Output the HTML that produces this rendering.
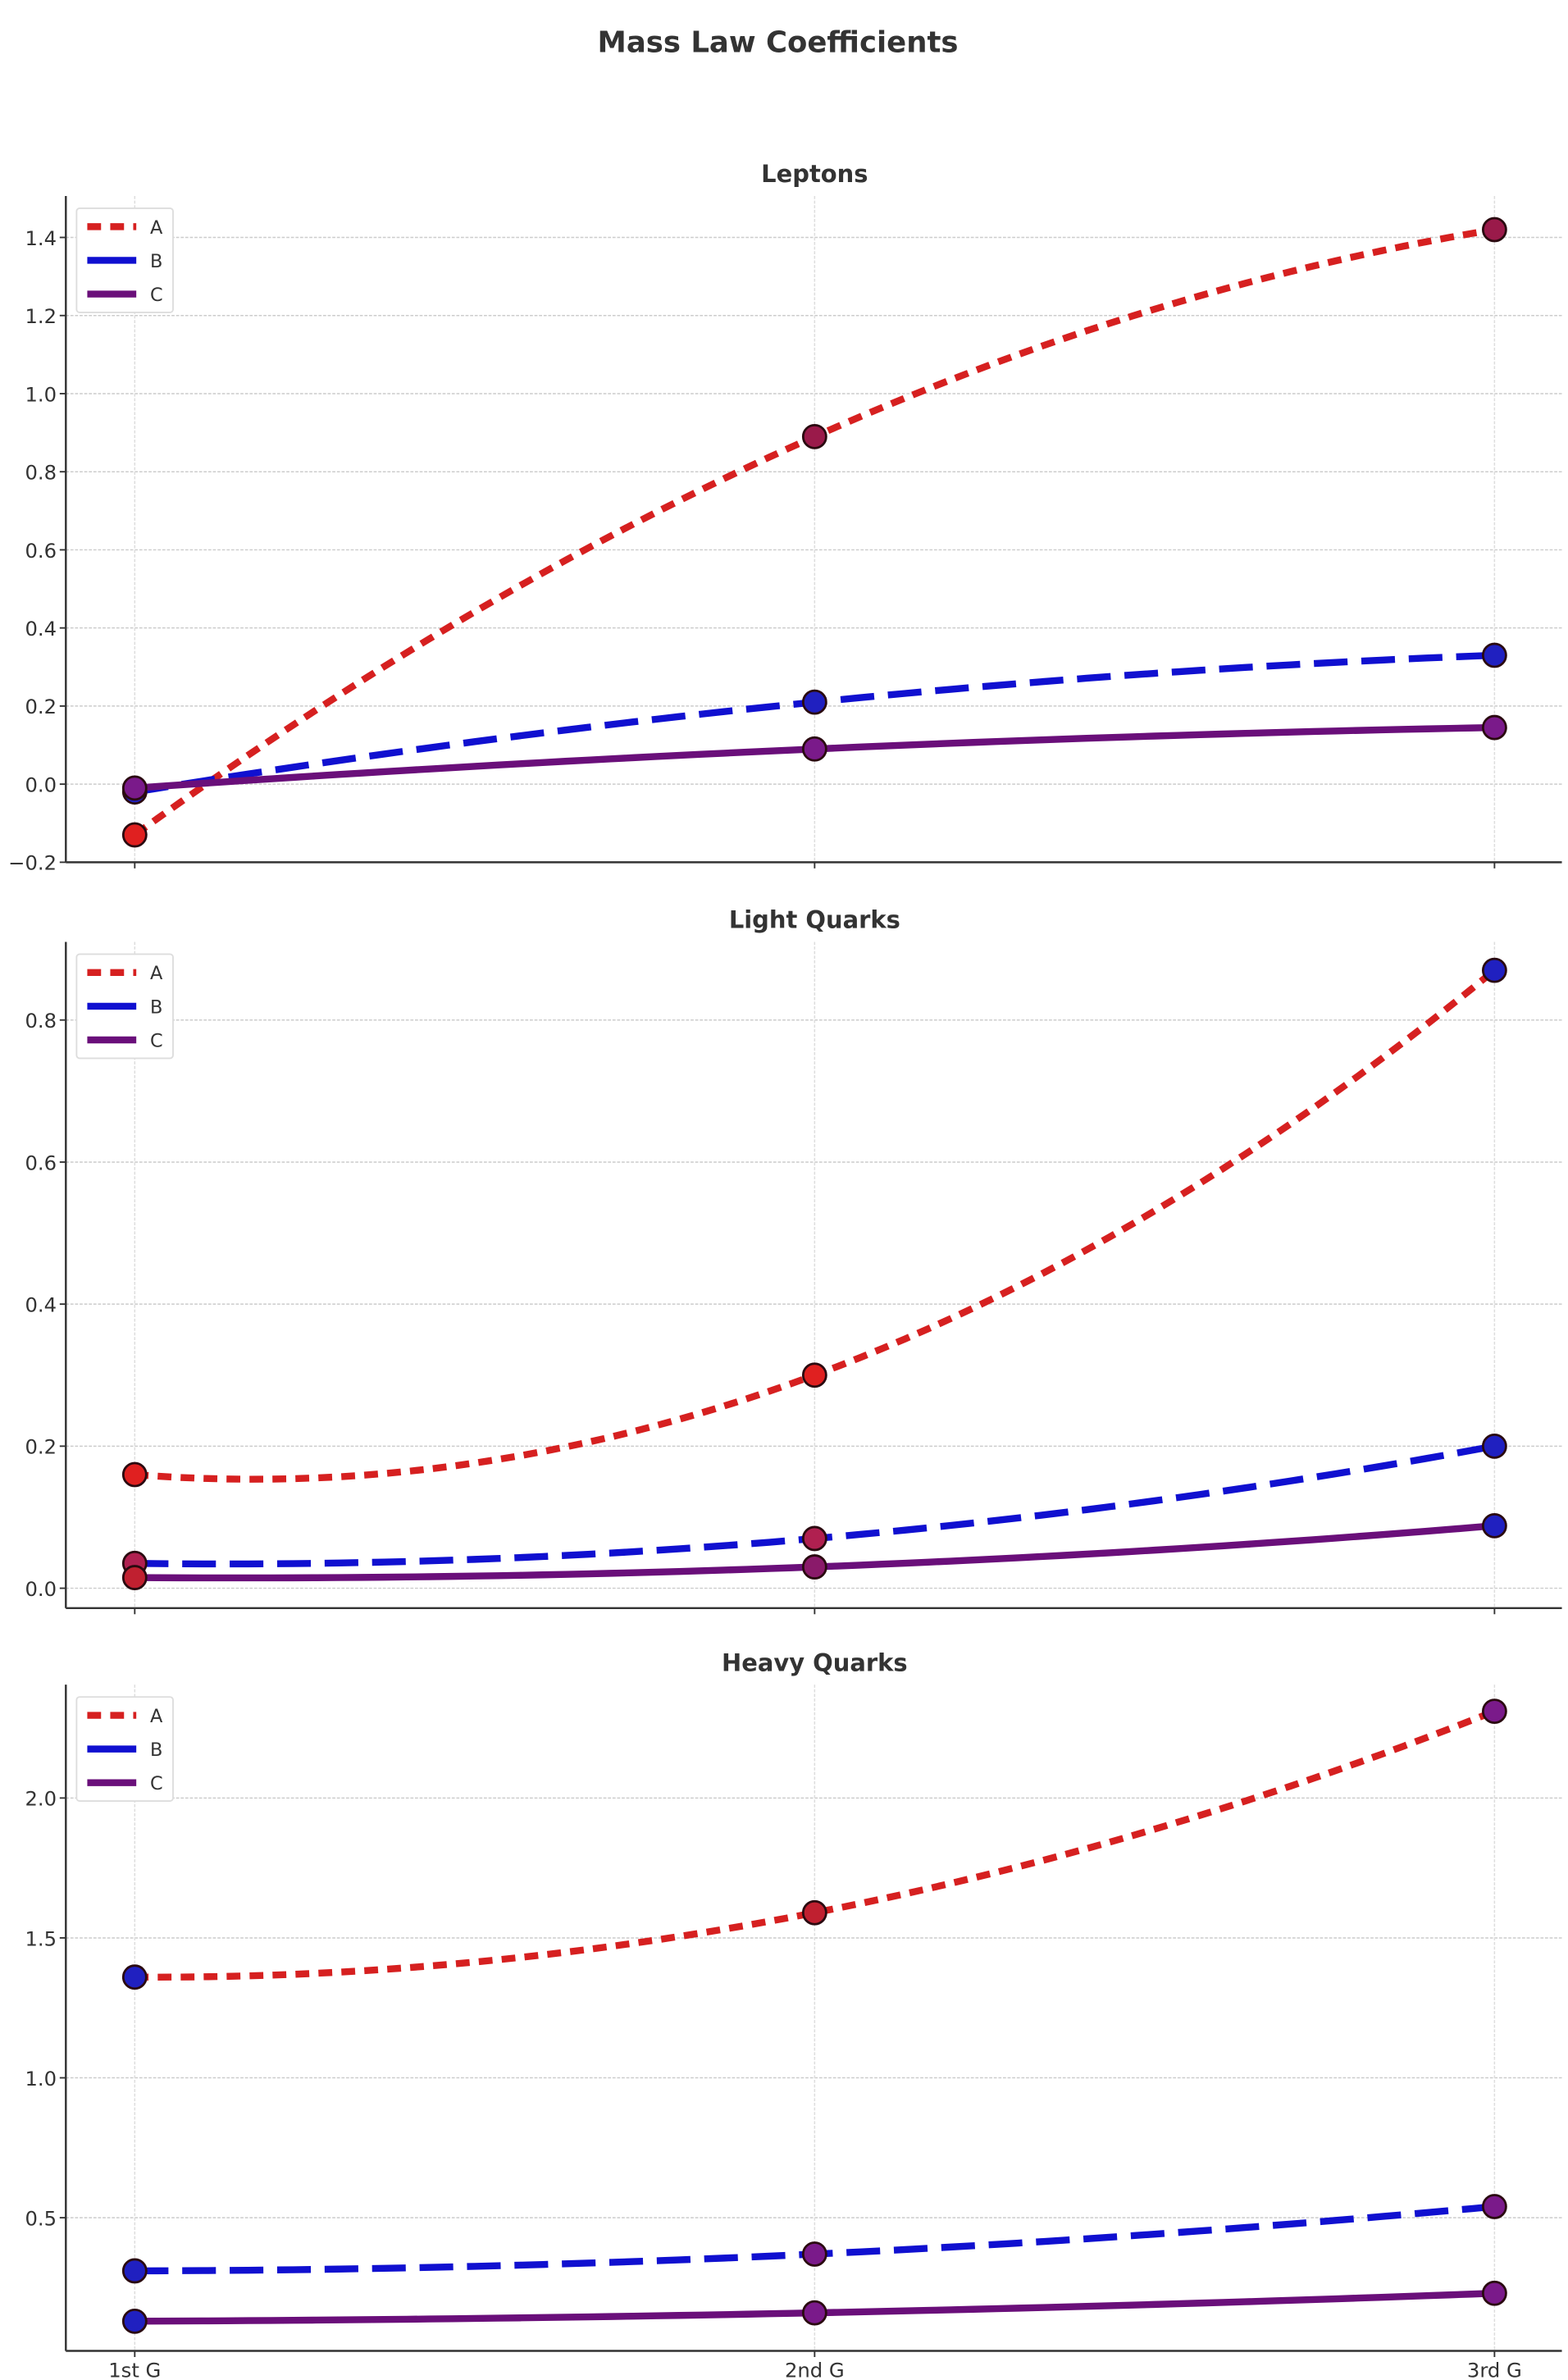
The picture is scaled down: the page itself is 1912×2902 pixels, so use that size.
<!DOCTYPE html>
<html><head><meta charset="utf-8"><style>
html,body{margin:0;padding:0;background:#fff;}
svg{display:block;font-family:"DejaVu Sans","Liberation Sans",sans-serif;}
</style></head><body>
<svg id="chart" width="1912" height="2902" viewBox="0 0 1024 1554" preserveAspectRatio="none" xmlns="http://www.w3.org/2000/svg">
<text x="508" y="34" text-anchor="middle" font-size="19" font-weight="bold" fill="#333">Mass Law Coefficients</text>
</svg>
<script>
const categories = ["1st G", "2nd G", "3rd G"];
const seriesNames = ["A", "B", "C"];
const panelTitles = ["Leptons", "Light Quarks", "Heavy Quarks"];
const leptonsA = [-0.13, 0.89, 1.42];
const leptonsB = [-0.02, 0.21, 0.33];
const leptonsC = [-0.01, 0.09, 0.145];
const lightA = [0.16, 0.30, 0.87];
const lightB = [0.035, 0.07, 0.20];
const lightC = [0.015, 0.03, 0.088];
const heavyA = [1.36, 1.59, 2.31];
const heavyB = [0.31, 0.37, 0.54];
const heavyC = [0.13, 0.16, 0.23];
const leptonTicks = ["-0.2", "0.0", "0.2", "0.4", "0.6", "0.8", "1.0", "1.2", "1.4"];
const lightTicks = ["0.0", "0.2", "0.4", "0.6", "0.8"];
const heavyTicks = ["0.5", "1.0", "1.5", "2.0"];

const NS = "http://www.w3.org/2000/svg";
const svg = document.getElementById("chart");
function mk(tag, attrs, parent) {
  const e = document.createElementNS(NS, tag);
  for (const k in attrs) e.setAttribute(k, attrs[k]);
  (parent || svg).appendChild(e);
  return e;
}
const colors = ["#d62020", "#1010d0", "#6a0f7a"];
const dashes = ["9 6", "22 9", ""];
const markerCols = [
  [["#e02020","#9a1a4a","#9a1a4a"],["#2020c0","#2020c0","#2020c0"],["#7a1a8a","#7a1a8a","#7a1a8a"]],
  [["#e02020","#e02020","#2020c0"],["#b02050","#b02050","#2020c0"],["#c02030","#8a1a6a","#2020c0"]],
  [["#2020c0","#c02030","#7a1a8a"],["#2020c0","#7a1a8a","#7a1a8a"],["#2020c0","#7a1a8a","#7a1a8a"]]
];
const panels = [
  {title: panelTitles[0], series: [leptonsA, leptonsB, leptonsC], ticks: leptonTicks, top: 128, bottom: 563, ymin: -0.2, ymax: 1.506, name: "leptons"},
  {title: panelTitles[1], series: [lightA, lightB, lightC], ticks: lightTicks, top: 615, bottom: 1050, ymin: -0.028, ymax: 0.91, name: "light-quarks"},
  {title: panelTitles[2], series: [heavyA, heavyB, heavyC], ticks: heavyTicks, top: 1100, bottom: 1535, ymin: 0.024, ymax: 2.405, name: "heavy-quarks"}
];
const L = 43, R = 1020, X0 = 88, X1 = 976;
function xs(i) { return X0 + (X1 - X0) * i / (categories.length - 1); }

panels.forEach((p, pi) => {
  const g = mk("g", {});
  
  
  const ys = v => p.bottom - (v - p.ymin) / (p.ymax - p.ymin) * (p.bottom - p.top);
  const t = mk("text", {x: 532, y: p.top - 9, "text-anchor": "middle", "font-size": 15.5, "font-weight": "bold", fill: "#333"}, g);
  t.textContent = p.title;
  
  
  // grid y
  p.ticks.forEach(tk => {
    const y = ys(parseFloat(tk));
    mk("line", {x1: L, x2: R, y1: y, y2: y, stroke: "#ccc", "stroke-width": 0.8, "stroke-dasharray": "2 1"}, g);
    mk("line", {x1: L - 4, x2: L, y1: y, y2: y, stroke: "#333", "stroke-width": 1}, g);
    const tl = mk("text", {x: L - 6, y: y + 5, "text-anchor": "end", "font-size": 13, fill: "#333"}, g);
    tl.textContent = tk.replace("-", "\u2212");
    
    
  });
  categories.forEach((c, i) => {
    const x = xs(i);
    mk("line", {x1: x, x2: x, y1: p.top, y2: p.bottom, stroke: "#ddd", "stroke-width": 0.8, "stroke-dasharray": "2 1"}, g);
    mk("line", {x1: x, x2: x, y1: p.bottom, y2: p.bottom + 4, stroke: "#333", "stroke-width": 1}, g);
    if (pi === 2) {
      const xl = mk("text", {x: x, y: p.bottom + 17, "text-anchor": "middle", "font-size": 13, fill: "#333"}, g);
      xl.textContent = c;
      
      
    }
  });
  mk("line", {x1: L, x2: L, y1: p.top, y2: p.bottom, stroke: "#333", "stroke-width": 1.3}, g);
  mk("line", {x1: L, x2: R, y1: p.bottom, y2: p.bottom, stroke: "#333", "stroke-width": 1.3}, g);
  // series: smooth quadratic through the 3 points
  p.series.forEach((vals, si) => {
    let d = "";
    const N = 60;
    for (let k = 0; k <= N; k++) {
      const u = 2 * k / N;
      const v = vals[0] * (u - 1) * (u - 2) / 2 - vals[1] * u * (u - 2) + vals[2] * u * (u - 1) / 2;
      const x = X0 + (X1 - X0) * u / 2;
      d += (k ? "L" : "M") + x.toFixed(2) + " " + ys(v).toFixed(2);
    }
    const path = mk("path", {d: d, fill: "none", stroke: colors[si], "stroke-width": 4.5, "stroke-dasharray": dashes[si]}, g);
    
    
  });
  p.series.forEach((vals, si) => {
    vals.forEach((v, i) => {
      const c = mk("circle", {cx: xs(i), cy: ys(v), r: 7.5, fill: markerCols[pi][si][i], stroke: "#2a0a10", "stroke-width": 1.5}, g);
      
      
    });
  });
  // legend
  const lg = mk("g", {}, g);
  
  
  const ly = p.top + 8;
  mk("rect", {x: 50, y: ly, width: 63, height: 68, fill: "#fff", stroke: "#ddd", "stroke-width": 1, rx: 2}, lg);
  seriesNames.forEach((n, si) => {
    const yy = ly + 12 + si * 22;
    mk("line", {x1: 57, x2: 89, y1: yy, y2: yy, stroke: colors[si], "stroke-width": 4.5, "stroke-dasharray": si === 0 ? "9 6" : ""}, lg);
    const lt = mk("text", {x: 98, y: yy + 4.5, "font-size": 12, fill: "#333"}, lg);
    lt.textContent = n;
    
    
  });
});
</script>
</body></html>
